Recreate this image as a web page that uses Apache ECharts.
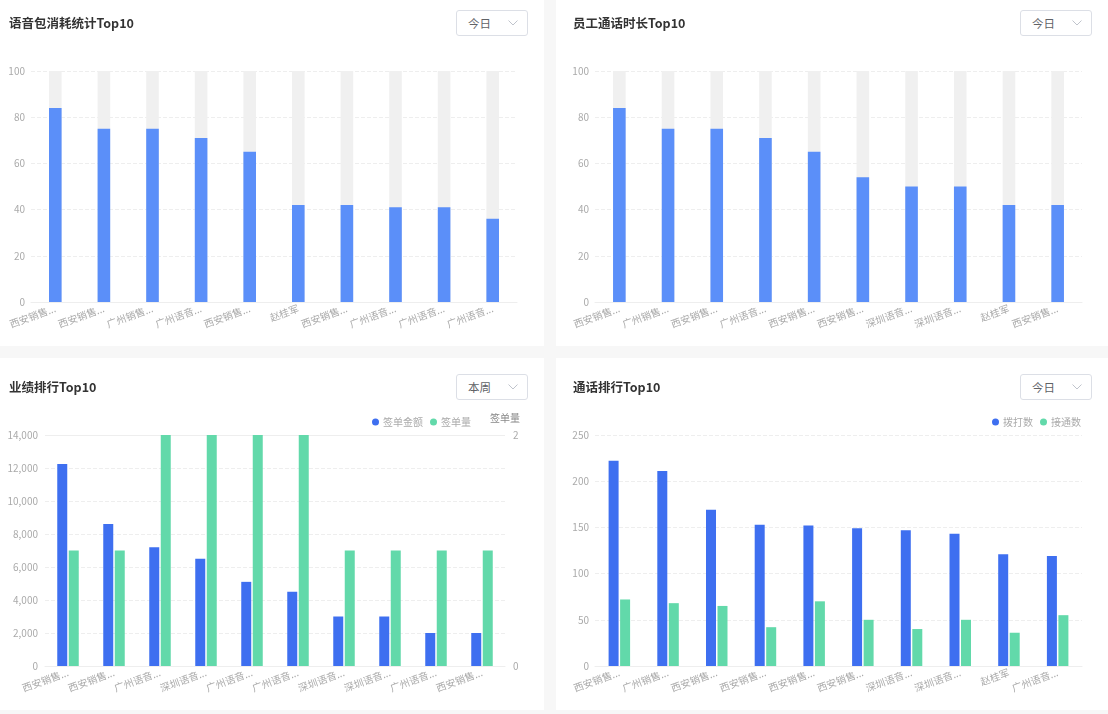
<!DOCTYPE html>
<html>
<head>
<meta charset="utf-8">
<script src="https://cdn.jsdelivr.net/npm/echarts@6/dist/echarts.min.js"></script>
<style>
  html, body { margin: 0; padding: 0; width: 1108px; height: 714px; overflow: hidden; background: #f7f7f7; font-family: "Noto Sans CJK SC", sans-serif; }
  .panel { position: absolute; background: #fff; }
  .chart { position: absolute; left: 0; top: 0; width: 100%; height: 100%; }
  .title { position: absolute; left: 9px; top: 14px; font-size: 12.5px; line-height: 18px; font-weight: 700; color: #333; z-index: 2; }
  .low .title { top: 20px; }
  .select { position: absolute; top: 10px; width: 70px; height: 24px; border: 1px solid #dcdfe6; border-radius: 3px; font-size: 11.5px; line-height: 24px; color: #606266; text-indent: 11px; z-index: 2; background: #fff; }
  .select svg { position: absolute; right: 9px; top: 9px; }
</style>
</head>
<body>
<div class="panel" style="left:0;top:0;width:544px;height:346px"><div class="title">语音包消耗统计Top10</div><div class="select" style="left:456px">今日<svg width="10" height="6"><path d="M0.5 0.5L5 5L9.5 0.5" fill="none" stroke="#c0c4cc"/></svg></div><div class="chart" id="c1"></div></div>
<div class="panel" style="left:556px;top:0;width:552px;height:346px"><div class="title" style="left:17px">员工通话时长Top10</div><div class="select" style="left:464px">今日<svg width="10" height="6"><path d="M0.5 0.5L5 5L9.5 0.5" fill="none" stroke="#c0c4cc"/></svg></div><div class="chart" id="c2"></div></div>
<div class="panel low" style="left:0;top:358px;width:544px;height:352px"><div class="title">业绩排行Top10</div><div class="select" style="left:456px;top:16px">本周<svg width="10" height="6"><path d="M0.5 0.5L5 5L9.5 0.5" fill="none" stroke="#c0c4cc"/></svg></div><div class="chart" id="c3"></div></div>
<div class="panel low" style="left:556px;top:358px;width:552px;height:352px"><div class="title" style="left:17px">通话排行Top10</div><div class="select" style="left:464px;top:16px">今日<svg width="10" height="6"><path d="M0.5 0.5L5 5L9.5 0.5" fill="none" stroke="#c0c4cc"/></svg></div><div class="chart" id="c4"></div></div>
<script>
// 语音包消耗
var packNames = ['西安销售...', '西安销售...', '广州销售...', '广州语音...', '西安销售...', '赵桂军', '西安销售...', '广州语音...', '广州语音...', '广州语音...'];
var packValues = [84, 75, 75, 71, 65, 42, 42, 41, 41, 36];
// 通话时长
var durationNames = ['西安销售...', '广州销售...', '西安销售...', '广州语音...', '西安销售...', '西安销售...', '深圳语音...', '深圳语音...', '赵桂军', '西安销售...'];
var durationValues = [84, 75, 75, 71, 65, 54, 50, 50, 42, 42];
// 业绩排行
var salesNames = ['西安销售...', '西安销售...', '广州语音...', '深圳语音...', '广州语音...', '广州语音...', '深圳语音...', '深圳语音...', '广州语音...', '西安销售...'];
var salesAmount = [12250, 8600, 7200, 6500, 5100, 4500, 3000, 3000, 2000, 2000];
var salesCount = [1, 1, 2, 2, 2, 2, 1, 1, 1, 1];
// 通话排行
var callNames = ['西安销售...', '广州销售...', '西安销售...', '西安销售...', '西安销售...', '西安销售...', '深圳语音...', '深圳语音...', '赵桂军', '广州语音...'];
var callDialed = [222, 211, 169, 153, 152, 149, 147, 143, 121, 119];
var callAnswered = [72, 68, 65, 42, 70, 50, 40, 50, 36, 55];

var BLUE = '#5b8ff9', DEEP = '#3e6ff0', GREEN = '#62d9aa';
var FONT = '"Noto Sans CJK SC", sans-serif';

function catAxis(names) {
  return {
    type: 'category',
    data: names,
    axisLine: { lineStyle: { color: '#eeeeee' } },
    axisTick: { show: false },
    axisLabel: { interval: 0, rotate: 20, color: '#aaaaaa', fontSize: 10, fontFamily: FONT, margin: 6 }
  };
}

function valAxis(extra, margin) {
  return Object.assign({
    type: 'value',
    axisLine: { show: false },
    axisTick: { show: false },
    axisLabel: { color: '#aaaaaa', fontSize: 10, fontFamily: FONT, margin: margin || 6 },
    splitLine: { lineStyle: { color: '#eeeeee', type: 'dashed' } }
  }, extra);
}

function legend(names, right) {
  return {
    data: names, top: 54, right: right, icon: 'circle', itemWidth: 7, itemHeight: 7, itemGap: 7,
    textStyle: { color: '#aaaaaa', fontSize: 10, fontFamily: FONT, padding: [0, 0, 0, -1] }
  };
}

// 单系列 + 灰色背景
function singleOption(names, values, left, right) {
  return {
    animation: false,
    grid: { left: left, right: right, top: 71, bottom: 44 },
    xAxis: catAxis(names),
    yAxis: valAxis({ min: 0, max: 100, interval: 20 }),
    series: [{
      type: 'bar', data: values, barWidth: 12.6,
      itemStyle: { color: BLUE },
      showBackground: true,
      backgroundStyle: { color: '#f0f0f0' }
    }]
  };
}

echarts.init(document.getElementById('c1')).setOption(singleOption(packNames, packValues, 31, 27));
echarts.init(document.getElementById('c2')).setOption(singleOption(durationNames, durationValues, 39, 26));

echarts.init(document.getElementById('c3')).setOption({
  animation: false,
  grid: { left: 45, right: 39, top: 77, bottom: 44 },
  legend: legend(['签单金额', '签单量'], 68),
  xAxis: catAxis(salesNames),
  yAxis: [
    valAxis({ min: 0, max: 14000, interval: 2000 }, 7),
    valAxis({
      min: 0, max: 2, interval: 2, name: '签单量', nameGap: 12,
      nameTextStyle: { color: '#888888', fontSize: 10, fontFamily: FONT, align: 'center' },
      splitLine: { lineStyle: { color: '#eeeeee', type: 'solid' } }
    }, 8)
  ],
  series: [
    { name: '签单金额', type: 'bar', data: salesAmount, barWidth: 10, barGap: '15%', itemStyle: { color: DEEP } },
    { name: '签单量', type: 'bar', yAxisIndex: 1, data: salesCount, barWidth: 10, barGap: '15%', itemStyle: { color: GREEN } }
  ]
});

echarts.init(document.getElementById('c4')).setOption({
  animation: false,
  grid: { left: 39, right: 26, top: 77, bottom: 44 },
  legend: legend(['拨打数', '接通数'], 22),
  xAxis: catAxis(callNames),
  yAxis: valAxis({ min: 0, max: 250, interval: 50 }),
  series: [
    { name: '拨打数', type: 'bar', data: callDialed, barWidth: 10, barGap: '15%', itemStyle: { color: DEEP } },
    { name: '接通数', type: 'bar', data: callAnswered, barWidth: 10, barGap: '15%', itemStyle: { color: GREEN } }
  ]
});
</script>
</body>
</html>
